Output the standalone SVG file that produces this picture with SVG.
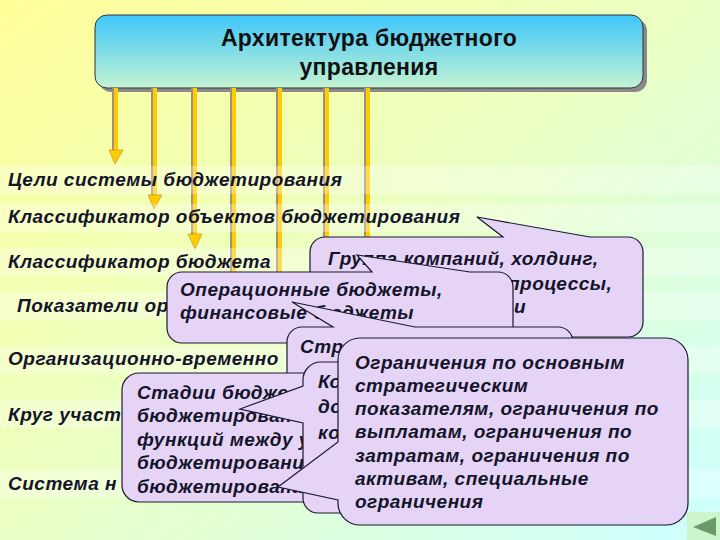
<svg xmlns="http://www.w3.org/2000/svg" width="720" height="540" viewBox="0 0 720 540">
<defs>
<linearGradient id="bg" x1="0" y1="0" x2="1" y2="1">
<stop offset="0" stop-color="#ffff99"/>
<stop offset="0.5" stop-color="#eaffc4"/>
<stop offset="1" stop-color="#ccffff"/>
</linearGradient>
<linearGradient id="hdr" x1="0" y1="0" x2="0" y2="1">
<stop offset="0" stop-color="#3ec6fb"/>
<stop offset="1" stop-color="#c4f3d2"/>
</linearGradient>
<style>
.row{font-family:"Liberation Sans",Arial,sans-serif;font-weight:bold;font-style:italic;font-size:19px;letter-spacing:0.5px;fill:#14142a}
.ct{font-family:"Liberation Sans",Arial,sans-serif;font-weight:bold;font-style:italic;font-size:19px;letter-spacing:0.5px;fill:#14142a}
.hd{font-family:"Liberation Sans",Arial,sans-serif;font-weight:bold;font-size:23px;letter-spacing:0.3px;fill:#111;text-anchor:middle}
.co{fill:#e5d4f6;stroke:#1a1a33;stroke-width:1.2}
.band{fill:#ffffff;opacity:0.3}
.ln{stroke:#ffcc00;stroke-width:4;fill:none}
.sh{stroke:#a0907a;stroke-width:2;fill:none}
.ah{fill:#ffcc00;stroke:#c8a040;stroke-width:0.8}
</style>
</defs>
<rect width="720" height="540" fill="url(#bg)"/>

<g id="header">
<rect x="99" y="19" width="548" height="73" rx="12" fill="#8a8a8a"/>
<rect x="95" y="15" width="548" height="73" rx="12" fill="url(#hdr)" stroke="#333" stroke-width="1"/>
<text class="hd" x="369" y="46">Архитектура бюджетного</text>
<text class="hd" x="369" y="75">управления</text>
</g>

<g id="connectors">
<line class="sh" x1="113" y1="88" x2="113" y2="150"/><line class="ln" x1="116" y1="88" x2="116" y2="152"/>
<polygon class="ah" points="109,150 123,150 115,164"/>
<line class="sh" x1="152" y1="88" x2="152" y2="195"/><line class="ln" x1="155" y1="88" x2="155" y2="197"/>
<polygon class="ah" points="148,195 162,195 154,209"/>
<line class="sh" x1="192" y1="88" x2="192" y2="234"/><line class="ln" x1="195" y1="88" x2="195" y2="236"/>
<polygon class="ah" points="188,234 202,234 195,249"/>
<line class="sh" x1="231" y1="88" x2="231" y2="300"/><line class="ln" x1="234" y1="88" x2="234" y2="300"/>
<line class="sh" x1="277" y1="88" x2="277" y2="300"/><line class="ln" x1="280" y1="88" x2="280" y2="300"/>
<line class="sh" x1="324" y1="88" x2="324" y2="300"/><line class="ln" x1="327" y1="88" x2="327" y2="300"/>
<line class="sh" x1="365" y1="88" x2="365" y2="300"/><line class="ln" x1="368" y1="88" x2="368" y2="300"/>
</g>

<g id="bands">
<rect class="band" x="0" y="166" width="720" height="28"/>
<rect class="band" x="0" y="204" width="720" height="28"/>
<rect class="band" x="0" y="248" width="720" height="28"/>
<rect class="band" x="0" y="292" width="720" height="28"/>
<rect class="band" x="0" y="346" width="720" height="28"/>
<rect class="band" x="0" y="400" width="720" height="28"/>
<rect class="band" x="0" y="470" width="720" height="28"/>
</g>

<g id="rows">
<text class="row" x="8" y="186">Цели системы бюджетирования</text>
<text class="row" x="8" y="223">Классификатор объектов бюджетирования</text>
<text class="row" x="8" y="268">Классификатор бюджета</text>
<text class="row" x="17" y="312">Показатели ор</text>
<text class="row" x="8" y="365">Организационно-временно</text>
<text class="row" x="8" y="421">Круг участ</text>
<text class="row" x="8" y="490">Система н</text>
</g>

<g id="callout-a">
<path class="co" d="M325,237 L503,237 L477,217 L590,237 L628,237 A15,15 0 0 1 643,252 L643,322 A15,15 0 0 1 628,337 L325,337 A15,15 0 0 1 310,322 L310,252 A15,15 0 0 1 325,237 Z"/>
<text class="ct" x="328" y="265">Группа компаний, холдинг,</text>
<text class="ct" x="508" y="290">процессы,</text>
<text class="ct" x="514" y="313">и</text>
</g>

<g id="callout-b">
<path class="co" d="M182,272 L372,272 L357,255 L470,272 L498,272 A15,15 0 0 1 513,287 L513,328 A15,15 0 0 1 498,343 L182,343 A15,15 0 0 1 167,328 L167,287 A15,15 0 0 1 182,272 Z"/>
<text class="ct" x="180" y="296">Операционные бюджеты,</text>
<text class="ct" x="180" y="319">финансовые бюджеты</text>
</g>

<g id="callout-c">
<path class="co" d="M302,327 L333,327 L292,302 L415,327 L558,327 A15,15 0 0 1 573,342 L573,480 A15,15 0 0 1 558,495 L302,495 A15,15 0 0 1 287,480 L287,342 A15,15 0 0 1 302,327 Z"/>
<text class="ct" x="300" y="353">Стр</text>
</g>

<g id="callout-e">
<path class="co" d="M139,373 L470,373 A15,15 0 0 1 485,388 L485,487 A15,15 0 0 1 470,502 L139,502 A17,17 0 0 1 122,485 L122,390 A17,17 0 0 1 139,373 Z"/>
<text class="ct" x="137" y="399">Стадии бюдже</text>
<text class="ct" x="137" y="422">бюджетирован</text>
<text class="ct" x="137" y="446">функций между у</text>
<text class="ct" x="137" y="469">бюджетировани</text>
<text class="ct" x="137" y="493">бюджетирована</text>
</g>

<g id="callout-d">
<path class="co" d="M321,362 L585,362 A15,15 0 0 1 600,377 L600,498 A15,15 0 0 1 585,513 L318,513 A15,15 0 0 1 303,498 L303,423 L240,409 L303,386 L303,380 A18,18 0 0 1 321,362 Z"/>
<text class="ct" x="318" y="388">Ко</text>
<text class="ct" x="318" y="413">до</text>
<text class="ct" x="318" y="439">ко</text>
</g>

<g id="callout-f">
<path class="co" d="M360,338 L666,338 A22,22 0 0 1 688,360 L688,503 A22,22 0 0 1 666,525 L360,525 A22,22 0 0 1 338,503 L338,500 L278,487 L338,442 L338,360 A22,22 0 0 1 360,338 Z"/>
<text class="ct" x="355" y="369">Ограничения по основным</text>
<text class="ct" x="355" y="392">стратегическим</text>
<text class="ct" x="355" y="415">показателям, ограничения по</text>
<text class="ct" x="355" y="438">выплатам, ограничения по</text>
<text class="ct" x="355" y="462">затратам, ограничения по</text>
<text class="ct" x="355" y="485">активам, специальные</text>
<text class="ct" x="355" y="508">ограничения</text>
</g>

<g id="nav">
<rect x="687" y="512" width="33" height="28" fill="#ccf5cc"/>
<polygon points="693,527 716,517 716,536" fill="#6a9a6a"/>
</g>
</svg>
